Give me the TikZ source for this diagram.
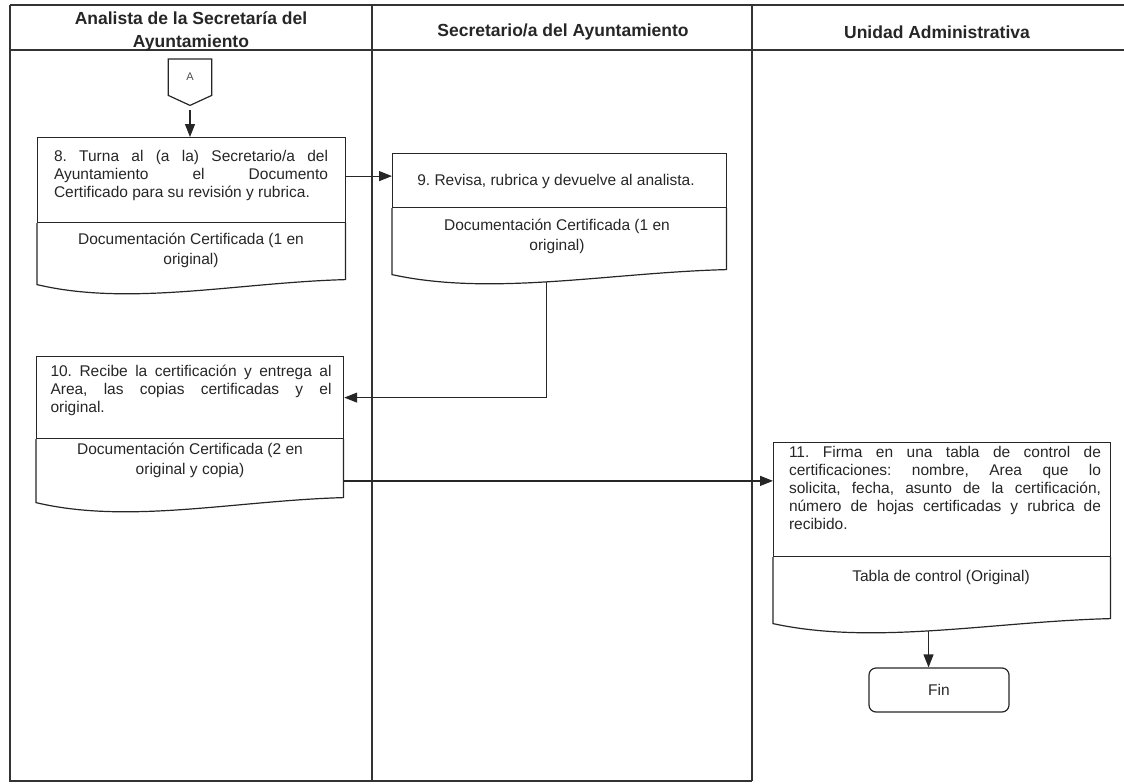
\documentclass[tikz,border=0pt]{standalone}
\usepackage{fontspec}
\setmainfont{Liberation Sans}
\usetikzlibrary{arrows.meta,calc}
\tolerance=10000
\hyphenpenalty=10000
\exhyphenpenalty=10000
\frenchspacing

% A process step: a plain box on top of a document box with a wavy bottom.
% #1 name, #2 x, #3 y (top left), #4 width, #5 height of the step part,
% #6 height of the document part. Defines (#1), (#1doc) and (#1out),
% the point on the wavy bottom edge where an outgoing line starts.
\newcommand\flowstep[6]{%
  \node[stepbox, minimum width=#4pt, minimum height=#5pt] (#1) at (#2,#3) {};
  \node[docarea, minimum width=#4pt, minimum height=#6pt] (#1doc) at (#1.south west) {};
  \draw[outline] (#1doc.north west) -- (#1doc.south west)
     .. controls ($(#1doc.south west)!0.3!(#1doc.south east)+(0,22)$)
             and ($(#1doc.south west)!0.65!(#1doc.south east)+(0,-2)$)
     .. ($(#1doc.south east)+(0,-5)$) coordinate[pos=0.48] (#1out)
     -- (#1doc.north east);
}

\begin{document}
\begin{tikzpicture}[x=1pt,y=-1pt,
  lane/.style={line width=1.3pt, draw=black!80},
  outline/.style={draw=black!85, line width=1.2pt},
  stepbox/.style={outline, rectangle, inner sep=0pt, anchor=north west},
  docarea/.style={rectangle, inner sep=0pt, anchor=north west},
  steptext/.style={inner sep=0pt, font=\fontsize{15.5}{18}\selectfont, text=black!85},
  doctext/.style={align=center, inner sep=0pt, font=\fontsize{15.5}{20}\selectfont, text=black!85},
  head/.style={align=center, inner sep=0pt, font=\bfseries\fontsize{17.5}{23}\selectfont, text=black!85},
  flow/.style={outline, -{Triangle[length=13pt,width=10pt]}},
  endbox/.style={outline, rounded corners=7pt, minimum width=140pt, minimum height=44pt,
                 inner sep=0pt, font=\fontsize{15.5}{18}\selectfont, text=black!85}
]
\useasboundingbox (0,0) rectangle (1124,784);

% swimlanes
\draw[lane] (10,5) -- (1124,5);
\draw[lane] (10,50) -- (1124,50);
\draw[lane] (10,5) -- (10,781) -- (752,781);
\draw[lane] (372,5) -- (372,781);
\draw[lane] (752,5) -- (752,781);

\node[head] (hAnalista) at (191,31) {Analista de la Secretaría del\\Ayuntamiento};
\node[head] (hSecretario) at (563,32) {Secretario/a del Ayuntamiento};
\node[head] (hUnidad) at (937,32) {Unidad Administrativa};

% off-page connector
\node[minimum width=43pt, minimum height=36pt, inner sep=0pt, anchor=north,
      font=\fontsize{11}{12}\selectfont, text=black!70] (conA) at (190,59) {A};
\draw[outline] (conA.north west) -- (conA.north east) -- (conA.south east)
  -- ($(conA.south)+(0,10)$) -- (conA.south west) -- cycle;

% process steps
\flowstep{s8}{37}{137}{308}{85}{61}
\flowstep{s9}{392}{153}{334}{54}{66}
\flowstep{s10}{36}{356}{307}{82}{63}
\flowstep{s11}{773}{442}{337}{114}{66}

\node[steptext, align=justify, text width=274pt] (t8) at (191,175)
  {8. Turna al (a la) Secretario/a del\linebreak Ayuntamiento el Documento\linebreak Certificado para su revisión y rubrica.};
\node[doctext] (d8) at (191,250) {Documentación Certificada (1 en\\original)};

\node[steptext] (t9) at (556,181) {9. Revisa, rubrica y devuelve al analista.};
\node[doctext] (d9) at (557,236) {Documentación Certificada (1 en\\original)};

\node[steptext, align=justify, text width=281pt] (t10) at (191,390)
  {10. Recibe la certificación y entrega al\linebreak Area, las copias certificadas y el\linebreak original.};
\node[doctext] (d10) at (190,460) {Documentación Certificada (2 en\\original y copia)};

\node[steptext, align=justify, text width=312pt] (t11) at (945,488)
  {11. Firma en una tabla de control de\linebreak certificaciones: nombre, Area que lo\linebreak solicita, fecha, asunto de la certificación,\linebreak número de hojas certificadas y rubrica de\linebreak recibido.};
\node[doctext] (d11) at (941,577) {Tabla de control (Original)};

\node[endbox] (fin) at (939,690) {Fin};

% connectors
\draw[flow] ($(conA.south)+(0,15)$) -- (conA.south |- s8.north);
\coordinate (a8) at ($(s8.east)+(0,-4)$);
\draw[flow] (a8) -- (a8 -| s9.west);
\draw[flow] (s9out) |- (s10.east);
\coordinate (a10) at ($(s10doc.east)+(0,10)$);
\draw[flow] (a10) -- (a10 -| s11.west);
\draw[flow] (s11out) -- (s11out |- fin.north);
\end{tikzpicture}
\end{document}
